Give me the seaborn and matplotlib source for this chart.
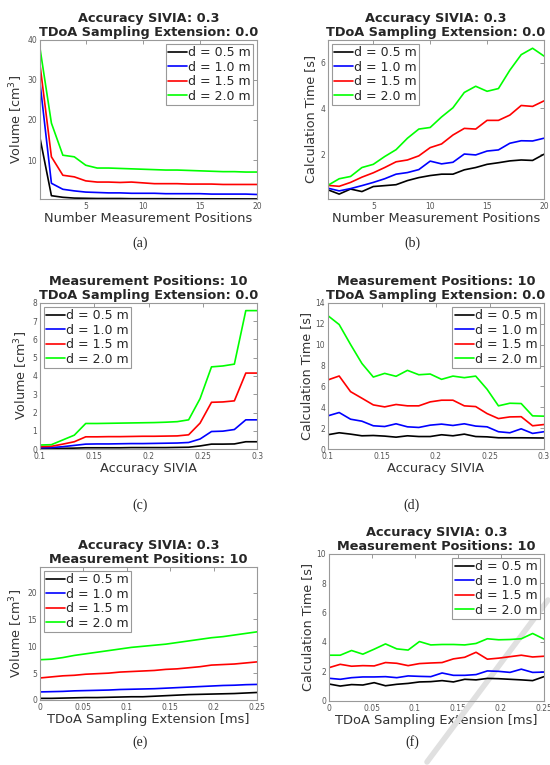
import numpy as np
import pandas as pd
import matplotlib
matplotlib.use("Agg")
import matplotlib.pyplot as plt
from matplotlib.lines import Line2D
import seaborn as sns

# labels of the four distances
labels = ["d = 0.5 m", "d = 1.0 m", "d = 1.5 m", "d = 2.0 m"]
colors = ["#000000", "#0000ff", "#ff0000", "#00ff00"]

# x values
positions = list(range(1, 21))
accuracy = list(np.linspace(0.1, 0.3, 20))
extension = list(np.linspace(0.0, 0.25, 20))

# (a) volume vs number of measurement positions
vol_pos_05 = [15.5, 1.1, 0.7, 0.5, 0.45, 0.4, 0.4, 0.4, 0.35, 0.35, 0.35, 0.35, 0.33, 0.33, 0.32, 0.32, 0.31, 0.31, 0.3, 0.3]
vol_pos_10 = [29.3, 4.2, 2.7, 2.3, 2.0, 1.9, 1.8, 1.8, 1.7, 1.7, 1.7, 1.6, 1.6, 1.6, 1.6, 1.5, 1.5, 1.5, 1.5, 1.4]
vol_pos_15 = [33.8, 10.8, 6.2, 5.8, 4.8, 4.5, 4.5, 4.4, 4.5, 4.3, 4.1, 4.1, 4.1, 4.0, 4.0, 4.0, 3.9, 3.9, 3.9, 3.9]
vol_pos_20 = [37.9, 19.2, 11.2, 10.8, 8.7, 8.0, 8.0, 7.9, 7.8, 7.7, 7.6, 7.5, 7.5, 7.4, 7.3, 7.2, 7.1, 7.1, 7.0, 7.0]

# (b) calculation time vs number of measurement positions
time_pos_05 = [0.45, 0.26, 0.48, 0.37, 0.59, 0.63, 0.67, 0.85, 0.98, 1.07, 1.13, 1.13, 1.32, 1.42, 1.56, 1.63, 1.71, 1.75, 1.73, 2.0]
time_pos_10 = [0.52, 0.4, 0.5, 0.63, 0.77, 0.93, 1.13, 1.2, 1.33, 1.7, 1.58, 1.65, 2.01, 1.97, 2.14, 2.19, 2.48, 2.59, 2.58, 2.7]
time_pos_15 = [0.64, 0.6, 0.77, 1.0, 1.19, 1.42, 1.67, 1.75, 1.93, 2.29, 2.45, 2.84, 3.13, 3.1, 3.48, 3.48, 3.71, 4.13, 4.09, 4.33]
time_pos_20 = [0.64, 0.93, 1.03, 1.42, 1.56, 1.9, 2.2, 2.7, 3.1, 3.17, 3.63, 4.03, 4.7, 4.97, 4.75, 4.87, 5.67, 6.35, 6.63, 6.29]

# (c) volume vs accuracy SIVIA
vol_acc_05 = [0.02, 0.03, 0.04, 0.05, 0.07, 0.07, 0.07, 0.07, 0.08, 0.08, 0.08, 0.08, 0.09, 0.1, 0.17, 0.27, 0.27, 0.28, 0.4, 0.4]
vol_acc_10 = [0.07, 0.08, 0.13, 0.2, 0.27, 0.28, 0.28, 0.29, 0.3, 0.3, 0.31, 0.32, 0.33, 0.36, 0.55, 0.96, 0.98, 1.07, 1.6, 1.6]
vol_acc_15 = [0.13, 0.15, 0.27, 0.4, 0.67, 0.67, 0.68, 0.68, 0.69, 0.7, 0.7, 0.71, 0.72, 0.78, 1.42, 2.56, 2.58, 2.64, 4.16, 4.16]
vol_acc_20 = [0.22, 0.24, 0.5, 0.76, 1.4, 1.4, 1.41, 1.42, 1.43, 1.44, 1.45, 1.47, 1.5, 1.6, 2.76, 4.5, 4.55, 4.65, 7.58, 7.58]

# (d) calculation time vs accuracy SIVIA
time_acc_05 = [1.37, 1.56, 1.43, 1.27, 1.3, 1.24, 1.14, 1.27, 1.2, 1.2, 1.37, 1.27, 1.43, 1.2, 1.17, 1.08, 1.08, 1.08, 1.07, 1.06]
time_acc_10 = [3.18, 3.5, 2.86, 2.67, 2.23, 2.16, 2.42, 2.13, 2.07, 2.29, 2.39, 2.26, 2.42, 2.2, 2.13, 1.66, 1.56, 1.94, 1.5, 1.66]
time_acc_15 = [6.62, 7.0, 5.5, 4.87, 4.23, 4.04, 4.27, 4.14, 4.14, 4.52, 4.68, 4.68, 4.14, 4.07, 3.4, 2.92, 3.08, 3.1, 2.23, 2.35]
time_acc_20 = [12.79, 11.93, 10.02, 8.2, 6.9, 7.25, 6.97, 7.54, 7.12, 7.19, 6.68, 6.99, 6.84, 6.99, 5.73, 4.14, 4.39, 4.36, 3.18, 3.15]

# (e) volume vs TDoA sampling extension
vol_ext_05 = [0.3, 0.3, 0.35, 0.4, 0.45, 0.45, 0.5, 0.55, 0.6, 0.6, 0.7, 0.8, 0.9, 1.0, 1.05, 1.1, 1.15, 1.2, 1.3, 1.4]
vol_ext_10 = [1.5, 1.55, 1.6, 1.7, 1.75, 1.8, 1.85, 1.95, 2.0, 2.05, 2.1, 2.2, 2.3, 2.4, 2.5, 2.6, 2.7, 2.75, 2.85, 2.9]
vol_ext_15 = [4.1, 4.3, 4.5, 4.6, 4.8, 4.9, 5.0, 5.2, 5.3, 5.4, 5.5, 5.7, 5.8, 6.0, 6.2, 6.5, 6.6, 6.7, 6.9, 7.1]
vol_ext_20 = [7.5, 7.6, 7.9, 8.3, 8.6, 8.9, 9.2, 9.5, 9.8, 10.0, 10.2, 10.4, 10.7, 11.0, 11.3, 11.6, 11.8, 12.1, 12.4, 12.7]

# (f) calculation time vs TDoA sampling extension
time_ext_05 = [1.14, 1.0, 1.1, 1.07, 1.23, 1.02, 1.12, 1.18, 1.28, 1.3, 1.37, 1.28, 1.46, 1.42, 1.52, 1.5, 1.46, 1.42, 1.37, 1.64]
time_ext_10 = [1.53, 1.46, 1.57, 1.62, 1.62, 1.64, 1.57, 1.69, 1.66, 1.64, 1.89, 1.73, 1.73, 1.78, 2.03, 2.0, 1.93, 2.15, 1.93, 1.95]
time_ext_15 = [2.25, 2.48, 2.35, 2.39, 2.37, 2.6, 2.55, 2.39, 2.53, 2.57, 2.6, 2.85, 2.96, 3.3, 2.83, 2.9, 3.0, 3.1, 2.98, 3.03]
time_ext_20 = [3.1, 3.1, 3.42, 3.17, 3.51, 3.87, 3.53, 3.45, 4.03, 3.8, 3.83, 3.83, 3.8, 3.9, 4.22, 4.15, 4.17, 4.22, 4.58, 4.2]


def make_df(x, series):
    rows = []
    for lab, ys in zip(labels, series):
        for xv, yv in zip(x, ys):
            rows.append({"x": xv, "y": yv, "d": lab})
    return pd.DataFrame(rows)


sns.set_style("white")
plt.rcParams["font.family"] = ["DejaVu Sans"]

fig = plt.figure(figsize=(5.5, 7.65), dpi=100)

# axes rectangles [left, bottom, width, height]
rects = {
    "a": [0.0727, 0.740, 0.395, 0.208],
    "b": [0.596, 0.740, 0.393, 0.208],
    "c": [0.0727, 0.413, 0.395, 0.191],
    "d": [0.596, 0.413, 0.393, 0.191],
    "e": [0.0727, 0.085, 0.395, 0.174],
    "f": [0.598, 0.084, 0.391, 0.192],
}


def panel(key, x, series, title, xlabel, ylabel, xlim, ylim, xticks, yticks, legloc):
    ax = fig.add_axes(rects[key])
    df = make_df(x, series)
    sns.lineplot(data=df, x="x", y="y", hue="d", palette=colors, linewidth=1.2, ax=ax)
    ax.set_xlim(xlim)
    ax.set_ylim(ylim)
    ax.set_xticks(xticks)
    ax.set_xticklabels(["%g" % t for t in xticks])
    ax.set_yticks(yticks)
    ax.set_yticklabels(["%g" % t for t in yticks])
    ax.tick_params(direction="in", length=3, width=0.6, labelsize=5.5, labelcolor="#555555",
                   color="#888888", top=True, right=True, pad=2)
    for sp in ax.spines.values():
        sp.set_color("#999999")
        sp.set_linewidth(0.8)
    ax.set_title(title, fontsize=9.3, fontweight="bold", pad=3, linespacing=1.05)
    ax.set_xlabel(xlabel, fontsize=9.4, color="#333333", labelpad=1)
    ax.set_ylabel(ylabel, fontsize=9.2, color="#333333", labelpad=2)
    leg = ax.legend(loc=legloc, fontsize=9, handlelength=1.5, handletextpad=0.1,
                    labelspacing=0.12, borderpad=0.2, borderaxespad=0.3,
                    fancybox=False, framealpha=1, edgecolor="#999999")
    leg.get_frame().set_linewidth(0.8)
    return ax


panel("a", positions, [vol_pos_05, vol_pos_10, vol_pos_15, vol_pos_20],
      "Accuracy SIVIA: 0.3\nTDoA Sampling Extension: 0.0",
      "Number Measurement Positions", "Volume [cm$^3$]",
      (1, 20), (0.3, 40), [5, 10, 15, 20], [10, 20, 30, 40], "upper right")
panel("b", positions, [time_pos_05, time_pos_10, time_pos_15, time_pos_20],
      "Accuracy SIVIA: 0.3\nTDoA Sampling Extension: 0.0",
      "Number Measurement Positions", "Calculation Time [s]",
      (1, 20), (0.05, 7), [5, 10, 15, 20], [2, 4, 6], "upper left")
panel("c", accuracy, [vol_acc_05, vol_acc_10, vol_acc_15, vol_acc_20],
      "Measurement Positions: 10\nTDoA Sampling Extension: 0.0",
      "Accuracy SIVIA", "Volume [cm$^3$]",
      (0.1, 0.3), (0, 8), [0.1, 0.15, 0.2, 0.25, 0.3], list(range(0, 9)), "upper left")
panel("d", accuracy, [time_acc_05, time_acc_10, time_acc_15, time_acc_20],
      "Measurement Positions: 10\nTDoA Sampling Extension: 0.0",
      "Accuracy SIVIA", "Calculation Time [s]",
      (0.1, 0.3), (0, 14), [0.1, 0.15, 0.2, 0.25, 0.3], list(range(0, 15, 2)), "upper right")
panel("e", extension, [vol_ext_05, vol_ext_10, vol_ext_15, vol_ext_20],
      "Accuracy SIVIA: 0.3\nMeasurement Positions: 10",
      "TDoA Sampling Extension [ms]", "Volume [cm$^3$]",
      (0, 0.25), (0, 24.8), [0, 0.05, 0.1, 0.15, 0.2, 0.25], [0, 5, 10, 15, 20], "upper left")
ax_f = panel("f", extension, [time_ext_05, time_ext_10, time_ext_15, time_ext_20],
             "Accuracy SIVIA: 0.3\nMeasurement Positions: 10",
             "TDoA Sampling Extension [ms]", "Calculation Time [s]",
             (0, 0.25), (0, 10), [0, 0.05, 0.1, 0.15, 0.2, 0.25], list(range(0, 11, 2)), "upper right")

# faint watermark stroke in the last panel, under the curves
ax_f.add_line(Line2D([548 / 550, 427 / 550], [1 - 600 / 765, 1 - 762 / 765],
                     transform=fig.transFigure, color="#e0e0e0", linewidth=4,
                     solid_capstyle="round", zorder=1, clip_on=False))

# sub-figure captions
caps = [("(a)", 0.255, 1 - 243 / 765), ("(b)", 0.749, 1 - 243 / 765),
        ("(c)", 0.255, 1 - 505 / 765), ("(d)", 0.749, 1 - 505 / 765),
        ("(e)", 0.255, 1 - 742 / 765), ("(f)", 0.749, 1 - 742 / 765)]
for txt, cx, cy in caps:
    fig.text(cx, cy, txt, ha="center", va="center", fontsize=10, family="Liberation Serif")

fig.savefig("out.png", dpi=100, facecolor="white")
